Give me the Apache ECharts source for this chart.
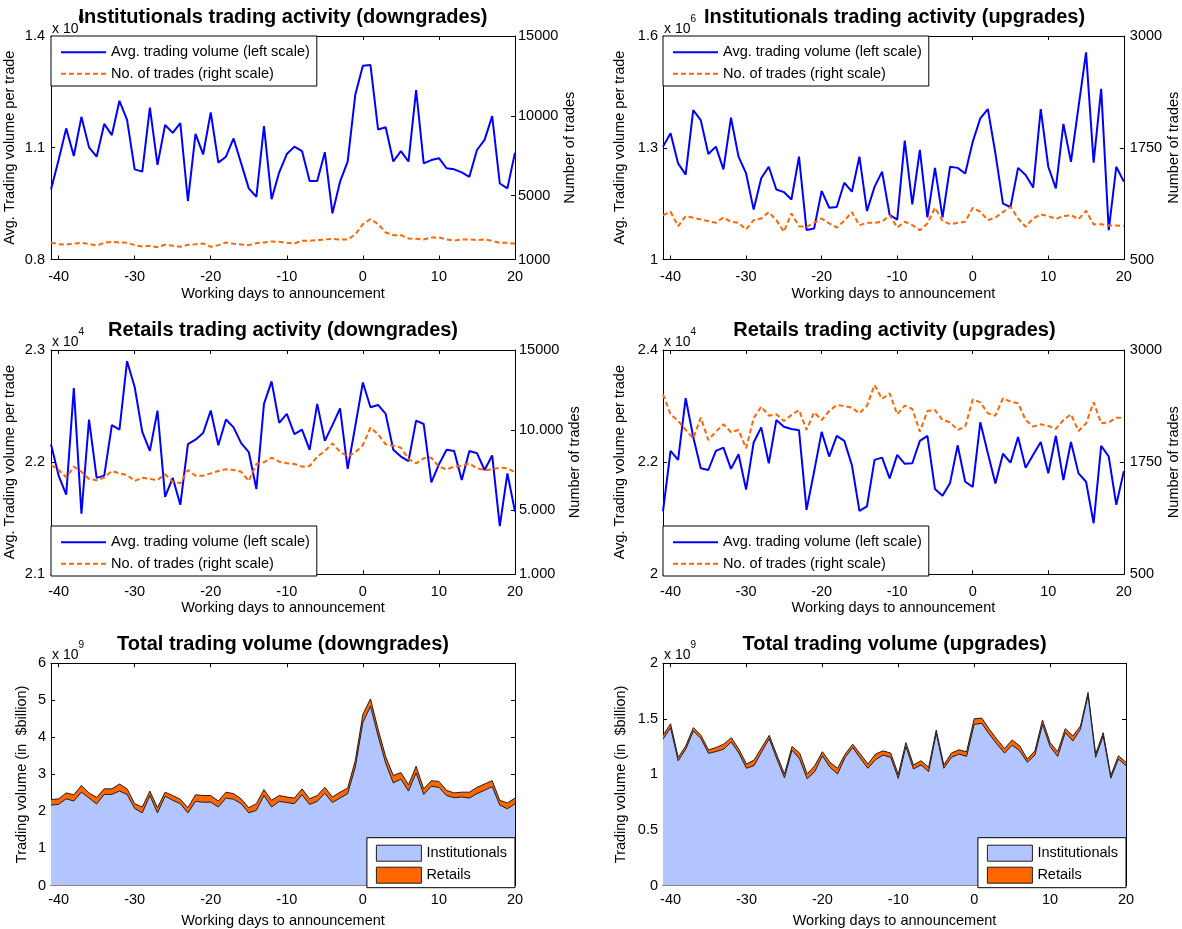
<!DOCTYPE html>
<html>
<head>
<meta charset="utf-8">
<title>Trading activity around rating announcements</title>
<script src="https://cdn.jsdelivr.net/npm/echarts@6.0.0/dist/echarts.min.js"></script>
<style>
  html, body { margin: 0; padding: 0; background: #fff; }
  #chart { width: 1182px; height: 929px; }
</style>
</head>
<body>
<div id="chart"></div>
<script>
// ---------------- data ----------------
// Working days relative to the rating announcement
const days = [-41,-40,-39,-38,-37,-36,-35,-34,-33,-32,-31,-30,-29,-28,-27,-26,-25,-24,-23,-22,
  -21,-20,-19,-18,-17,-16,-15,-14,-13,-12,-11,-10,-9,-8,-7,-6,-5,-4,-3,-2,-1,
  0,1,2,3,4,5,6,7,8,9,10,11,12,13,14,15,16,17,18,19,20];
const dayTicks = [-40, -30, -20, -10, 0, 10, 20];

// Institutionals, downgrades: avg. volume per trade (x10^6) and number of trades
const instDownAvgVol = [0.988,1.067,1.152,1.078,1.183,1.101,1.076,1.164,1.134,1.226,
  1.175,1.042,1.036,1.208,1.054,1.161,1.140,1.166,0.957,1.137,
  1.082,1.195,1.060,1.076,1.125,1.058,0.991,0.968,1.158,0.962,
  1.034,1.083,1.103,1.091,1.011,1.011,1.088,0.924,1.009,1.063,
  1.242,1.320,1.322,1.149,1.155,1.063,1.091,1.063,1.255,1.058,
  1.067,1.072,1.045,1.042,1.034,1.022,1.094,1.121,1.185,1.004,
  0.991,1.087];
const instDownTrades = [2066,1961,1941,2003,2045,1982,1878,2045,2108,2066,
  2045,1899,1815,1857,1773,1920,1857,1794,1920,1961,
  2003,1794,1899,2066,1982,1941,1899,2024,2066,2129,
  2108,2045,2003,2170,2170,2212,2254,2296,2254,2254,
  2568,3215,3529,3215,2693,2526,2526,2317,2296,2254,
  2379,2379,2254,2191,2254,2254,2212,2254,2170,2045,
  2045,1982];
const instDownAvgTicks = [0.8, 1.1, 1.4];
const instDownTradeTicks = [1000, 5000, 10000, 15000];

// Institutionals, upgrades
const instUpAvgVol = [1.303,1.339,1.258,1.228,1.401,1.374,1.283,1.303,1.242,1.381,
  1.276,1.231,1.134,1.218,1.249,1.188,1.181,1.161,1.276,1.079,
  1.083,1.184,1.139,1.141,1.206,1.182,1.276,1.130,1.195,1.236,
  1.120,1.107,1.319,1.148,1.294,1.113,1.246,1.113,1.249,1.246,
  1.231,1.316,1.379,1.404,1.285,1.150,1.141,1.246,1.227,1.193,
  1.404,1.249,1.191,1.364,1.262,1.410,1.556,1.260,1.458,1.079,
  1.249,1.209];
const instUpTrades = [996,1034,873,985,966,948,929,910,970,922,
  910,836,940,959,1030,940,810,1015,873,866,
  910,959,903,858,933,1030,884,910,910,922,
  996,858,922,884,828,903,1078,933,895,910,
  922,1078,1034,940,970,1030,1090,959,866,959,
  1004,985,955,985,996,951,1045,892,895,881,
  881,873];
const instUpAvgTicks = [1, 1.3, 1.6];
const instUpTradeTicks = [500, 1750, 3000];

// Retails, downgrades: avg. volume per trade (x10^4) and number of trades
const retDownAvgVol = [2.216,2.188,2.171,2.266,2.154,2.238,2.186,2.188,2.233,2.229,
  2.290,2.267,2.227,2.210,2.246,2.169,2.186,2.162,2.216,2.220,
  2.226,2.246,2.215,2.238,2.231,2.217,2.209,2.176,2.252,2.272,
  2.235,2.243,2.225,2.229,2.211,2.252,2.219,2.233,2.248,2.194,
  2.232,2.271,2.249,2.251,2.243,2.211,2.205,2.201,2.237,2.234,
  2.182,2.198,2.211,2.210,2.184,2.210,2.208,2.193,2.206,2.143,
  2.190,2.156];
const retDownTrades = [7822,7510,7053,7718,7406,6949,6866,7032,7448,7302,
  7198,6824,7032,6949,6886,7240,6782,6678,7510,7157,
  7157,7302,7448,7552,7510,7406,6824,7885,7989,8280,
  8030,7926,7885,7718,7760,8342,8696,9174,8654,8342,
  8613,9070,10152,9736,9112,9029,8904,8197,7926,8238,
  8280,7718,7552,7718,7781,7926,7614,7510,7552,7656,
  7614,7365];
const retDownAvgTicks = [2.1, 2.2, 2.3];
const retDownTradeTicks = [1000, 5000, 10000, 15000];
const retDownTradeTickText = ['1.000', '5.000', '10.000', '15000'];

// Retails, upgrades
const retUpAvgVol = [2.112,2.220,2.204,2.314,2.245,2.189,2.186,2.220,2.226,2.188,
  2.214,2.151,2.235,2.262,2.198,2.275,2.263,2.259,2.257,2.115,
  2.183,2.254,2.210,2.247,2.238,2.195,2.113,2.121,2.204,2.208,
  2.171,2.213,2.197,2.198,2.238,2.247,2.152,2.140,2.163,2.230,
  2.165,2.156,2.271,2.216,2.162,2.215,2.199,2.245,2.190,2.213,
  2.236,2.180,2.247,2.168,2.236,2.180,2.165,2.091,2.229,2.210,
  2.124,2.184];
const retUpTrades = [2506,2283,2209,2109,2016,2246,1997,2090,2172,2083,
  2109,1904,2239,2369,2268,2283,2209,2276,2331,2109,
  2305,2220,2320,2387,2376,2357,2294,2380,2610,2454,
  2517,2283,2380,2343,2090,2320,2331,2220,2194,2109,
  2146,2450,2417,2294,2268,2462,2424,2406,2220,2146,
  2172,2153,2120,2220,2283,2097,2183,2417,2183,2194,
  2246,2246];
const retUpAvgTicks = [2, 2.2, 2.4];
const retUpTradeTicks = [500, 1750, 3000];

// Total trading volume (x10^9), downgrades
const instDownVol = [2.17,2.19,2.34,2.28,2.52,2.36,2.20,2.46,2.46,2.55,
  2.46,2.08,1.96,2.43,1.96,2.41,2.30,2.21,1.96,2.27,
  2.25,2.25,2.12,2.36,2.33,2.21,1.96,2.03,2.43,2.12,
  2.27,2.24,2.21,2.45,2.19,2.27,2.49,2.24,2.36,2.48,
  3.19,4.40,4.84,4.04,3.30,2.77,2.87,2.55,3.04,2.46,
  2.68,2.65,2.43,2.37,2.39,2.36,2.48,2.57,2.67,2.17,
  2.07,2.21];
const retDownVol = [0.15,0.15,0.16,0.17,0.18,0.14,0.18,0.15,0.15,0.19,
  0.15,0.13,0.16,0.12,0.14,0.11,0.13,0.12,0.14,0.18,
  0.18,0.18,0.16,0.16,0.15,0.13,0.14,0.18,0.16,0.18,
  0.16,0.15,0.15,0.16,0.15,0.16,0.16,0.15,0.16,0.15,
  0.18,0.22,0.20,0.18,0.18,0.20,0.18,0.17,0.18,0.15,
  0.15,0.16,0.14,0.13,0.13,0.16,0.17,0.17,0.16,0.13,
  0.16,0.15];
const downVolTicks = [0, 1, 2, 3, 4, 5, 6];

// Total trading volume (x10^9), upgrades
const instUpVol = [1.317,1.420,1.123,1.227,1.391,1.322,1.189,1.206,1.227,1.292,
  1.191,1.055,1.079,1.204,1.322,1.139,0.969,1.219,1.139,0.960,
  1.025,1.168,1.064,1.004,1.153,1.242,1.144,1.055,1.132,1.174,
  1.153,0.964,1.251,1.049,1.085,1.025,1.370,1.055,1.153,1.183,
  1.162,1.450,1.459,1.361,1.272,1.192,1.263,1.212,1.109,1.174,
  1.450,1.251,1.162,1.376,1.301,1.406,1.712,1.153,1.346,0.966,
  1.138,1.079];
const retUpVol = [0.035,0.036,0.030,0.030,0.030,0.030,0.032,0.036,0.045,0.039,
  0.036,0.038,0.050,0.038,0.030,0.035,0.035,0.032,0.053,0.044,
  0.054,0.036,0.045,0.051,0.030,0.030,0.039,0.038,0.051,0.038,
  0.039,0.036,0.036,0.036,0.038,0.039,0.030,0.030,0.039,0.038,
  0.042,0.051,0.048,0.045,0.044,0.041,0.047,0.045,0.029,0.038,
  0.039,0.036,0.042,0.036,0.045,0.029,0.026,0.030,0.030,0.024,
  0.030,0.030];
const upVolTicks = [0, 0.5, 1, 1.5, 2];

// ---------------- text ----------------
const LEG_AVG = 'Avg. trading volume (left scale)';
const LEG_TRD = 'No. of trades (right scale)';
const LEG_INST = 'Institutionals';
const LEG_RET = 'Retails';
const X_NAME = 'Working days to announcement';
const Y_AVG = 'Avg. Trading volume per trade';
const Y_TRD = 'Number of trades';
const Y_TOT = 'Trading volume (in  $billion)';

// ---------------- style & layout ----------------
const FONT = '"Liberation Sans", Arial, Helvetica, sans-serif';
const FS = 14.5;
const BLUE = '#0000ff';
const ORANGE = '#ff6600';
const AREA_BLUE = '#b2c5ff';
const EDGE = '#1e1e1e';

const COLS = [{ left: 51, width: 464 }, { left: 663, width: 463 }];
const ROWS = [{ top: 36, height: 223.5 }, { top: 350, height: 224.3 }, { top: 663.3, height: 224.4 }];
const TITLE_Y = [17.5, 330, 644];
const EXP_Y = [25.3, 338.3, 651];

const panels = [
  { row: 0, col: 0, kind: 'lines', title: 'Institutionals trading activity (downgrades)', exp: '6',
    avg: instDownAvgVol, trades: instDownTrades, legendTop: 36, xMargin: 10, xGap: 26.5,
    yL: { ticks: instDownAvgTicks, name: Y_AVG, gap: 33.5, margin: 6 },
    yR: { ticks: instDownTradeTicks, name: Y_TRD, gap: 47.5, margin: 3 } },
  { row: 0, col: 1, kind: 'lines', title: 'Institutionals trading activity (upgrades)', exp: '6',
    avg: instUpAvgVol, trades: instUpTrades, legendTop: 36, xMargin: 10, xGap: 26.5,
    yL: { ticks: instUpAvgTicks, name: Y_AVG, gap: 35.5, margin: 5 },
    yR: { ticks: instUpTradeTicks, name: Y_TRD, gap: 39.5, margin: 6 } },
  { row: 1, col: 0, kind: 'lines', title: 'Retails trading activity (downgrades)', exp: '4',
    avg: retDownAvgVol, trades: retDownTrades, legendTop: 526, xMargin: 10, xGap: 26.5,
    yL: { ticks: retDownAvgTicks, name: Y_AVG, gap: 33.5, margin: 6 },
    yR: { ticks: retDownTradeTicks, text: retDownTradeTickText, name: Y_TRD, gap: 50.5, margin: 4 } },
  { row: 1, col: 1, kind: 'lines', title: 'Retails trading activity (upgrades)', exp: '4',
    avg: retUpAvgVol, trades: retUpTrades, legendTop: 526, xMargin: 10, xGap: 26.5,
    yL: { ticks: retUpAvgTicks, name: Y_AVG, gap: 35.5, margin: 5 },
    yR: { ticks: retUpTradeTicks, name: Y_TRD, gap: 39.5, margin: 6 } },
  { row: 2, col: 0, kind: 'area', title: 'Total trading volume (downgrades)', exp: '9',
    inst: instDownVol, ret: retDownVol, xMargin: 6.5, xGap: 27.5,
    yL: { ticks: downVolTicks, name: Y_TOT, gap: 21.8, margin: 5 } },
  { row: 2, col: 1, kind: 'area', title: 'Total trading volume (upgrades)', exp: '9',
    inst: instUpVol, ret: retUpVol, xMargin: 6.5, xGap: 27.5,
    yL: { ticks: upVolTicks, name: Y_TOT, gap: 34.8, margin: 5 } }
];

// ---------------- builders ----------------
const pairs = (vals) => days.map((d, k) => [d, vals[k]]);

function makeX(gi, bottom, margin, nameGap) {
  const ax = {
    type: 'value', gridIndex: gi, position: bottom ? 'bottom' : 'top',
    min: days[0], max: days[days.length - 1],
    axisLine: { show: true, onZero: false, lineStyle: { color: '#000', width: 1 } },
    axisTick: { show: true, inside: true, length: 4, customValues: dayTicks, lineStyle: { color: '#000', width: 1 } },
    axisLabel: { show: false },
    splitLine: { show: false }
  };
  if (bottom) {
    ax.axisLabel = { show: true, customValues: dayTicks, margin: margin, color: '#000', fontSize: FS, fontFamily: FONT,
      formatter: (v) => String(v) };
    ax.name = X_NAME;
    ax.nameLocation = 'middle';
    ax.nameGap = nameGap;
    ax.nameTextStyle = { color: '#000', fontSize: FS, fontFamily: FONT };
  }
  return ax;
}

function makeY(gi, pos, cfg, withLabels) {
  const ticks = cfg.ticks;
  const ax = {
    type: 'value', gridIndex: gi, position: pos,
    min: ticks[0], max: ticks[ticks.length - 1],
    axisLine: { show: true, onZero: false, lineStyle: { color: '#000', width: 1 } },
    axisTick: { show: true, inside: true, length: 4, customValues: ticks, lineStyle: { color: '#000', width: 1 } },
    axisLabel: { show: false },
    splitLine: { show: false }
  };
  if (withLabels) {
    ax.axisLabel = {
      show: true, customValues: ticks, margin: cfg.margin, color: '#000', fontSize: FS, fontFamily: FONT,
      formatter: cfg.text ? (v) => cfg.text[ticks.indexOf(v)] : (v) => String(v)
    };
    ax.name = cfg.name;
    ax.nameLocation = 'middle';
    ax.nameGap = cfg.gap;
    ax.nameRotate = 90;
    ax.nameTextStyle = { color: '#000', fontSize: FS, fontFamily: FONT };
  }
  return ax;
}

const grid = [], xAxis = [], yAxis = [], series = [], legend = [], graphic = [];

panels.forEach((p, i) => {
  const c = COLS[p.col], r = ROWS[p.row];
  grid.push({ left: c.left, top: r.top, width: c.width, height: r.height, containLabel: false });
  xAxis.push(makeX(i, true, p.xMargin, p.xGap), makeX(i, false));

  if (p.kind === 'lines') {
    yAxis.push(makeY(i, 'left', p.yL, true), makeY(i, 'right', p.yR, true));
    series.push({
      type: 'line', name: LEG_AVG, xAxisIndex: 2 * i, yAxisIndex: 2 * i,
      data: pairs(p.avg), symbol: 'none', silent: true, z: 2,
      lineStyle: { color: BLUE, width: 2 }, itemStyle: { color: BLUE }
    }, {
      type: 'line', name: LEG_TRD, xAxisIndex: 2 * i, yAxisIndex: 2 * i + 1,
      data: pairs(p.trades), symbol: 'none', silent: true, z: 3,
      lineStyle: { color: ORANGE, width: 2, type: [5, 3] }, itemStyle: { color: ORANGE }
    });
    legend.push({
      orient: 'vertical', left: c.left, top: p.legendTop,
      data: [LEG_AVG, LEG_TRD], selectedMode: false,
      itemWidth: 45, itemHeight: 14, itemGap: 6.6,
      padding: [8.7, 7, 4.7, 9],
      backgroundColor: '#fff', borderColor: '#000', borderWidth: 1, borderRadius: 0,
      itemStyle: { opacity: 0 },
      textStyle: { color: '#000', fontSize: FS, fontFamily: FONT, lineHeight: 14 }
    });
  } else {
    yAxis.push(makeY(i, 'left', p.yL, true), makeY(i, 'right', { ticks: p.yL.ticks }, false));
    // retail layer sits on top of the institutional layer
    const total = p.inst.map((v, k) => v + p.ret[k]);
    series.push({
      type: 'line', name: LEG_RET, xAxisIndex: 2 * i, yAxisIndex: 2 * i,
      data: pairs(total), symbol: 'none', silent: true, z: 2,
      lineStyle: { color: EDGE, width: 1 }, itemStyle: { color: ORANGE },
      areaStyle: { color: ORANGE, opacity: 1 }
    }, {
      type: 'line', name: LEG_INST, xAxisIndex: 2 * i, yAxisIndex: 2 * i,
      data: pairs(p.inst), symbol: 'none', silent: true, z: 3,
      lineStyle: { color: EDGE, width: 1 }, itemStyle: { color: AREA_BLUE },
      areaStyle: { color: AREA_BLUE, opacity: 1 }
    });
    legend.push({
      orient: 'vertical', right: 1182 - (c.left + c.width), bottom: 929 - (r.top + r.height),
      data: [
        { name: LEG_INST, icon: 'rect', itemStyle: { color: AREA_BLUE, borderColor: EDGE, borderWidth: 1 } },
        { name: LEG_RET, icon: 'rect', itemStyle: { color: ORANGE, borderColor: EDGE, borderWidth: 1 } }
      ],
      selectedMode: false,
      itemWidth: 45, itemHeight: 16, itemGap: 5,
      padding: [7, 8, 4, 9],
      backgroundColor: '#fff', borderColor: '#000', borderWidth: 1, borderRadius: 0,
      textStyle: { color: '#000', fontSize: FS, fontFamily: FONT, lineHeight: 16 }
    });
  }

  // panel title
  graphic.push({
    type: 'text', x: c.left + c.width / 2, y: TITLE_Y[p.row], silent: true, z: 50,
    style: {
      text: p.title, fill: '#000', font: 'bold 20px ' + FONT,
      align: 'center', verticalAlign: 'middle', textAlign: 'center', textVerticalAlign: 'middle'
    }
  });
  // axis multiplier "x 10^n"
  graphic.push({
    type: 'text', x: c.left + 1, y: EXP_Y[p.row], silent: true, z: 40,
    style: {
      text: '{b|x 10}{s|' + p.exp + '}', fill: '#000', font: '14px ' + FONT,
      align: 'left', verticalAlign: 'middle', textAlign: 'left', textVerticalAlign: 'middle',
      rich: {
        b: { fontSize: 14, fontFamily: FONT, lineHeight: 22, verticalAlign: 'bottom', fill: '#000' },
        s: { fontSize: 10, fontFamily: FONT, lineHeight: 8, verticalAlign: 'top', fill: '#000' }
      }
    }
  });
});

const chart = echarts.init(document.getElementById('chart'), null, { renderer: 'canvas' });
chart.setOption({
  animation: false,
  backgroundColor: '#fff',
  textStyle: { fontFamily: FONT },
  grid, xAxis, yAxis, series, legend, graphic
});
</script>
</body>
</html>
